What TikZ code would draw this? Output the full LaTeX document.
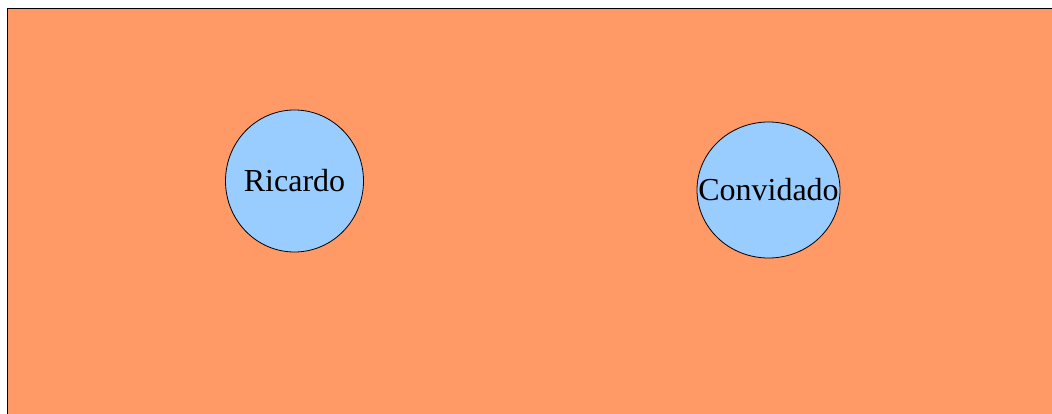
\documentclass[tikz,border=0pt]{standalone}
\usepackage{fontspec}
\setmainfont{Liberation Serif}
\usetikzlibrary{shapes.geometric}
\definecolor{bgorange}{HTML}{FF9966}
\definecolor{nodeblue}{HTML}{99CCFF}
\tikzset{
  actor/.style={ellipse, draw=black, line width=0.8pt, fill=nodeblue, inner sep=0pt,
    font=\fontsize{32}{36}\selectfont, text=black}
}
\begin{document}
\begin{tikzpicture}[x=1pt,y=-1pt]
\useasboundingbox (0,0) rectangle (1052,414);
\fill[white] (0,0) rectangle (1052,414);
\draw[fill=bgorange, draw=black, line width=1pt] (7.5,8.5) rectangle (1070,430);
\node[actor, minimum width=138pt, minimum height=142pt] (ricardo) at (294.5,181) {\makebox[0pt]{Ricardo}};
\node[actor, minimum width=143pt, minimum height=136pt] (convidado) at (768.5,190) {\makebox[0pt]{Convidado}};
\end{tikzpicture}
\end{document}
